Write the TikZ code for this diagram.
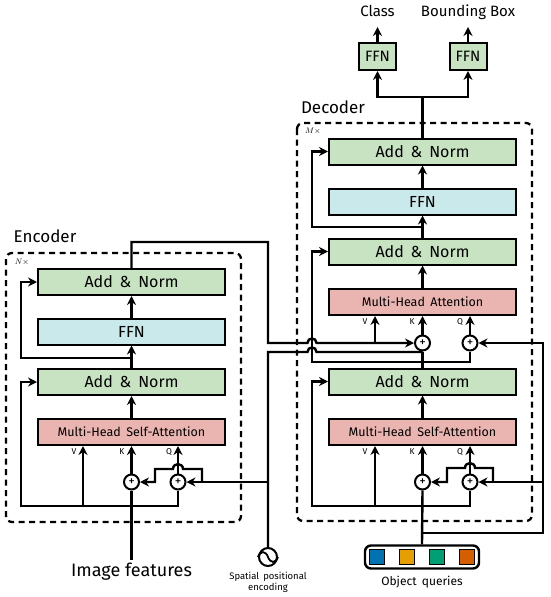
\documentclass[tikz,border=0pt]{standalone}
\usepackage{fontspec}
\setmainfont{Fira Sans}
\usetikzlibrary{arrows.meta,positioning}
\definecolor{addgreen}{RGB}{200,227,193}
\definecolor{ffncyan}{RGB}{201,233,234}
\definecolor{attnred}{RGB}{234,180,176}
\definecolor{qblue}{RGB}{0,114,178}
\definecolor{qorange}{RGB}{230,159,0}
\definecolor{qgreen}{RGB}{0,158,115}
\definecolor{qred}{RGB}{213,94,0}
\tikzset{
  blk/.style={draw, line width=2pt, minimum width=187pt, minimum height=26pt, inner sep=0pt},
  addnorm/.style={blk, fill=addgreen, font=\fontsize{16}{18}\selectfont},
  ffn/.style={blk, fill=ffncyan, font=\fontsize{16}{18}\selectfont},
  attn/.style={blk, fill=attnred, font=\fontsize{12.5}{14}\selectfont},
  head/.style={draw, line width=2pt, fill=addgreen, minimum width=37pt, minimum height=27pt, inner sep=0pt, font=\fontsize{15}{18}\selectfont},
  plus/.style={circle, draw, line width=2pt, fill=white, minimum size=15pt, inner sep=0pt, font=\fontsize{13}{13}\selectfont},
  wire/.style={line width=2.4pt},
  arr/.style={wire, -{Stealth[length=9pt,width=9pt]}},
  stack/.style={line width=2.3pt, dash pattern=on 6pt off 4.5pt, rounded corners=6pt},
  vkq/.style={font=\fontsize{8.5}{9}\selectfont, inner sep=0pt},
  title/.style={font=\fontsize{17}{20}\selectfont},
  hlbl/.style={anchor=south, font=\fontsize{15}{18}\selectfont, text depth=3pt, inner xsep=0pt, inner ysep=7pt},
}
\begin{document}
\begin{tikzpicture}[x=1pt,y=-1pt]
  \useasboundingbox (0,0) rectangle (550,597);

  \draw[stack] (6,253) rectangle (241,522);
  \draw[stack] (297,123) rectangle (532,521);
  \node[title] (enc) at (45,236) {Encoder};
  \node[title] (dec) at (333,107) {Decoder};
  \node[font=\fontsize{8.5}{8}\selectfont] (nx) at (22,262) {$N\times$};
  \node[font=\fontsize{8.5}{8}\selectfont] (mx) at (313,131) {$M\times$};

  \node[addnorm] (eadd2) at (131.5,282) {Add\,\ \&\ \,Norm};
  \node[ffn] (effn) at (131.5,331.5) {FFN};
  \node[addnorm] (eadd1) at (131.5,382) {Add\,\ \&\ \,Norm};
  \node[attn] (eatt) at (131.5,432) {Multi-Head\, Self-Attention};
  \node[plus] (ek) at (131.5,482) {+};
  \node[plus] (eq) at (178,482) {+};

  \node[addnorm] (dadd3) at (422.5,151.5) {Add\,\ \&\ \,Norm};
  \node[ffn] (dffn) at (422.5,201.5) {FFN};
  \node[addnorm] (dadd2) at (422.5,251.5) {Add\,\ \&\ \,Norm};
  \node[attn] (dcross) at (422.5,302) {Multi-Head\, Attention};
  \node[plus] (dk2) at (422.5,343) {+};
  \node[plus] (dq2) at (470,343) {+};
  \node[addnorm] (dadd1) at (422.5,381.5) {Add\,\ \&\ \,Norm};
  \node[attn] (dself) at (422.5,432) {Multi-Head\, Self-Attention};
  \node[plus] (dk1) at (422.5,482) {+};
  \node[plus] (dq1) at (470,482) {+};

  \node[head] (cls) at (377.5,56.5) {FFN};
  \node[head] (bbox) at (468,56.5) {FFN};
  \node[hlbl] (clsl) at (377.5,27) {Class};
  \node[hlbl] (bboxl) at (468,27) {Bounding Box};

  \node[vkq] (evl) at (74,452) {V};
  \node[vkq] (ekl) at (122,452) {K};
  \node[vkq] (eql) at (169,452) {Q};
  \node[vkq] (dvl) at (365,452) {V};
  \node[vkq] (dkl) at (412,452) {K};
  \node[vkq] (dql) at (460,452) {Q};
  \node[vkq] (cvl) at (365,322) {V};
  \node[vkq] (ckl) at (412,322) {K};
  \node[vkq] (cql) at (460,322) {Q};

  \node[font=\fontsize{18}{20}\selectfont] (feat) at (131.5,572) {Image features};
  \node[circle, draw, line width=2pt, minimum size=18pt, inner sep=0pt] (pos) at (268,557) {};
  \draw[line width=1.8pt] (pos.west) .. controls +(2.5,-6.5) and +(-2.5,-6.5) .. (pos.center) .. controls +(2.5,6.5) and +(-2.5,6.5) .. (pos.east);
  \node[font=\fontsize{9.5}{11}\selectfont, align=center] (posl) at (268,582) {Spatial\, positional\\encoding};
  \node[draw, line width=2.4pt, rounded corners=6pt, minimum width=114pt, minimum height=23pt] (oq) at (422,557) {};
  \foreach \c [count=\i] in {qblue,qorange,qgreen,qred}
    \node[draw, line width=0.8pt, fill=\c, minimum size=15pt, inner sep=0pt] (sq\i) at (347+30*\i,557) {};
  \node[font=\fontsize{12}{14}\selectfont] (oql) at (422,582) {Object\, queries};

  \coordinate (eout) at (268,242);
  \coordinate (mem) at (268,343);
  \coordinate (sp) at (268,352);
  \coordinate (spk) at (422.5,352);
  \coordinate (spe) at (268,482);
  \coordinate (epq) at (202,482);
  \coordinate (eres) at (131.5,358);
  \coordinate (ebus) at (21,506);
  \coordinate (ev) at (83,506);
  \coordinate (dbus) at (312,506);
  \coordinate (dv) at (375,506);
  \coordinate (dv2) at (375,343);
  \coordinate (dj1) at (422.5,362);
  \coordinate (dres) at (422.5,227);
  \coordinate (qj) at (422.5,533);
  \coordinate (qtop) at (543,343);
  \coordinate (qr) at (543,482);
  \coordinate (dpq) at (493,482);
  \coordinate (hj) at (422.5,97);

  \draw[arr] (eatt.north) -- (eadd1.south);
  \draw[arr] (eadd1.north) -- (effn.south);
  \draw[arr] (effn.north) -- (eadd2.south);
  \draw[arr] (eres) -| ([xshift=-16pt]eadd2.west) -- (eadd2.west);
  \draw[arr] (eq.south) |- (ebus) |- (eadd1.west);
  \draw[arr] (ev) -- (ev |- eatt.south);
  \draw[arr] (ek.north) -- (eatt.south);
  \draw[arr] (eq.north) -- (eq |- eatt.south);
  \draw[wire] (feat.north) -- (ek.south);
  \draw[arr] (spe) -- (eq.east);
  \draw[arr] (epq) -- (202,469) -- (183,469) .. controls (183,462.5) and (173,462.5) .. (173,469) -- (155,469) -- (155,482) -- (ek.east);

  \draw[arr] (eadd2.north) |- (eout) -- (mem) -- (307.5,343) .. controls (307.5,337) and (316.5,337) .. (316.5,343) -- (dk2.west);
  \draw[wire] (pos.north) -- (sp) -- (307.5,352) .. controls (307.5,346) and (316.5,346) .. (316.5,352) -- (spk);
  \draw[arr] (dv2) -- (dv2 |- dcross.south);

  \draw[arr] (dself.north) -- (dadd1.south);
  \draw[arr] (dk1.north) -- (dself.south);
  \draw[arr] (dq1.north) -- (dq1 |- dself.south);
  \draw[arr] (dv) -- (dv |- dself.south);
  \draw[arr] (dq1.south) |- (dbus) |- (dadd1.west);
  \draw[wire] (oq.north) -- (dk1.south);
  \draw[arr] (qj) -| (qtop) -- (dq2.east);
  \draw[arr] (qr) -- (dq1.east);
  \draw[arr] (dpq) -- (493,468) -- (475,468) .. controls (475,461.5) and (465,461.5) .. (465,468) -- (447,468) -- (447,482) -- (dk1.east);

  \draw[wire] (dadd1.north) -- (dk2.south);
  \draw[wire] (dj1) -| (dq2.south);
  \draw[arr] (dj1) -| ([xshift=-16pt]dadd2.west) -- (dadd2.west);
  \draw[arr] (dk2.north) -- (dcross.south);
  \draw[arr] (dq2.north) -- (dq2 |- dcross.south);
  \draw[arr] (dcross.north) -- (dadd2.south);
  \draw[arr] (dadd2.north) -- (dffn.south);
  \draw[arr] (dffn.north) -- (dadd3.south);
  \draw[arr] (dres) -| ([xshift=-16pt]dadd3.west) -- (dadd3.west);

  \draw[wire] (dadd3.north) -- (hj);
  \draw[arr] (hj) -| (cls.south);
  \draw[arr] (hj) -| (bbox.south);
  \draw[arr] (cls.north) -- (clsl.south);
  \draw[arr] (bbox.north) -- (bboxl.south);
\end{tikzpicture}
\end{document}
